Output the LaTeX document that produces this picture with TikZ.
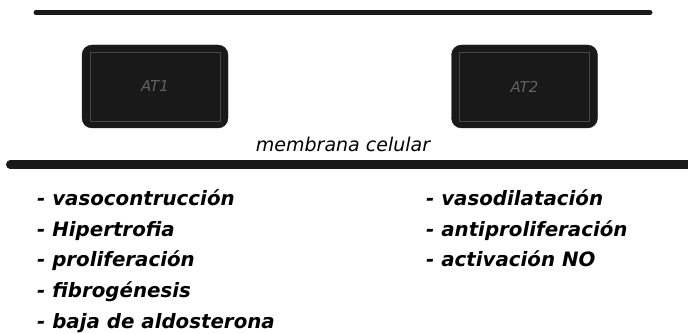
\documentclass[tikz,border=0pt]{standalone}
\usepackage{fontspec}
\setmainfont{DejaVu Sans}
\begin{document}
\begin{tikzpicture}[x=1pt,y=-1pt,
  recbox/.style={draw=black!90,fill=black!90,rounded corners=10pt,minimum width=146pt,minimum height=83pt,inner sep=0pt,text=black!62,font=\fontsize{15}{17}\selectfont\itshape},
  innerline/.style={draw=black!72,line width=0.5pt},
  item/.style={anchor=base west,inner sep=0pt,font=\fontsize{19.8}{22}\selectfont\bfseries\itshape},
  mem/.style={line cap=round,black!90}]
\useasboundingbox (0,0) rectangle (688,334);
\coordinate (t1) at (36,12.5);
\coordinate (t2) at (650,12.5);
\draw[mem,line width=5pt] (t1) -- (t2);
\node[recbox] (at1) at (155,86.5) {AT1};
\node[recbox] (at2) at (524.5,86.5) {AT2};
\draw[innerline] ([shift={(8,7)}]at1.north west) rectangle ([shift={(-8,-7)}]at1.south east);
\draw[innerline] ([shift={(8,7)}]at2.north west) rectangle ([shift={(-8,-7)}]at2.south east);
\node[anchor=base,inner sep=0pt,font=\fontsize{19}{21}\selectfont\itshape] (mc) at (343,152) {membrana celular};
\coordinate (b1) at (10,164.5);
\coordinate (b2) at (700,164.5);
\draw[mem,line width=8pt] (b1) -- (b2);
\node[item] (l1) at (37,205) {- vasocontrucción};
\node[item] (l2) at (37,236) {- Hipertrofia};
\node[item] (l3) at (37,266.5) {- proliferación};
\node[item] (l4) at (37,297) {- fibrogénesis};
\node[item] (l5) at (37,328) {- baja de aldosterona};
\node[item] (r1) at (426,205) {- vasodilatación};
\node[item] (r2) at (426,236) {- antiproliferación};
\node[item] (r3) at (426,266.5) {- activación NO};
\end{tikzpicture}
\end{document}
